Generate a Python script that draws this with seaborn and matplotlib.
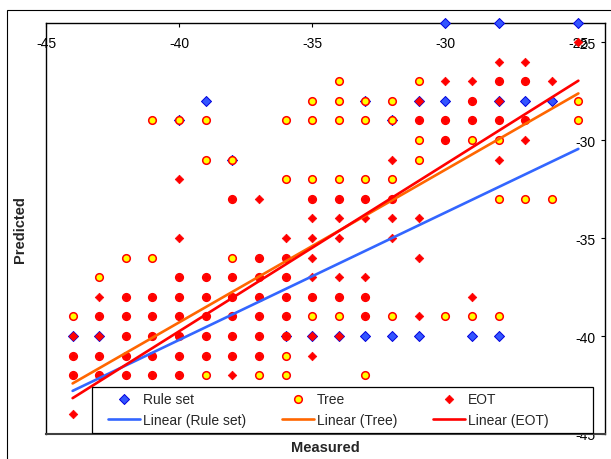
import pandas as pd
import matplotlib
matplotlib.use('Agg')
import matplotlib.pyplot as plt
from matplotlib.patches import Rectangle
import seaborn as sns

# (measured, predicted) pairs
rule_pts = [(-39, -28), (-40, -29), (-33, -28), (-32, -29), (-38, -31),
            (-31, -28), (-30, -28), (-28, -28), (-27, -28), (-26, -28),
            (-30, -24), (-28, -24), (-25, -24),
            (-44, -40), (-43, -40), (-36, -40), (-35, -40), (-34, -40),
            (-33, -40), (-32, -40), (-31, -40), (-29, -40), (-28, -40)]

tree_pts = [(-34, -27), (-31, -27), (-28, -27), (-27, -27),
            (-35, -28), (-34, -28), (-33, -28), (-32, -28), (-29, -28), (-25, -28),
            (-41, -29), (-40, -29), (-39, -29), (-36, -29), (-35, -29), (-34, -29),
            (-33, -29), (-32, -29), (-31, -29), (-30, -29), (-29, -29), (-28, -29),
            (-27, -29), (-25, -29),
            (-31, -30), (-30, -30), (-29, -30), (-28, -30),
            (-39, -31), (-38, -31), (-31, -31),
            (-36, -32), (-35, -32), (-34, -32), (-33, -32), (-32, -32),
            (-38, -33), (-35, -33), (-34, -33), (-33, -33), (-32, -33),
            (-28, -33), (-27, -33), (-26, -33),
            (-42, -36), (-41, -36), (-38, -36), (-37, -36), (-36, -36),
            (-43, -37), (-40, -37), (-39, -37), (-38, -37), (-37, -37), (-36, -37),
            (-42, -38), (-41, -38), (-40, -38), (-39, -38), (-38, -38), (-37, -38),
            (-36, -38), (-35, -38), (-34, -38), (-33, -38),
            (-44, -39), (-43, -39), (-42, -39), (-41, -39), (-40, -39), (-39, -39),
            (-38, -39), (-37, -39), (-36, -39), (-35, -39), (-34, -39), (-33, -39),
            (-32, -39), (-30, -39), (-29, -39), (-28, -39),
            (-42, -40), (-41, -40), (-40, -40), (-39, -40), (-38, -40), (-37, -40),
            (-36, -40),
            (-44, -41), (-43, -41), (-42, -41), (-41, -41), (-40, -41), (-39, -41),
            (-38, -41), (-37, -41), (-36, -41),
            (-44, -42), (-43, -42), (-42, -42), (-41, -42), (-40, -42), (-39, -42),
            (-37, -42), (-36, -42), (-33, -42)]

eot_pts = [(-25, -25),
           (-28, -26), (-27, -26),
           (-30, -27), (-29, -27), (-28, -27), (-27, -27), (-26, -27),
           (-31, -28), (-29, -28), (-28, -28),
           (-31, -29), (-30, -29), (-29, -29), (-28, -29), (-27, -29),
           (-30, -30), (-27, -30),
           (-32, -31), (-28, -31),
           (-40, -32),
           (-38, -33), (-37, -33), (-35, -33), (-34, -33), (-33, -33), (-32, -33),
           (-35, -34), (-34, -34), (-33, -34), (-32, -34), (-31, -34),
           (-40, -35), (-36, -35), (-35, -35), (-34, -35), (-32, -35),
           (-37, -36), (-36, -36), (-35, -36), (-31, -36),
           (-40, -37), (-39, -37), (-38, -37), (-37, -37), (-36, -37), (-35, -37),
           (-34, -37), (-33, -37),
           (-43, -38), (-42, -38), (-41, -38), (-40, -38), (-39, -38), (-38, -38),
           (-37, -38), (-36, -38), (-35, -38), (-34, -38), (-33, -38), (-29, -38),
           (-43, -39), (-42, -39), (-41, -39), (-40, -39), (-39, -39), (-38, -39),
           (-37, -39), (-36, -39), (-33, -39), (-31, -39),
           (-44, -40), (-43, -40), (-42, -40), (-41, -40), (-40, -40), (-39, -40),
           (-38, -40), (-37, -40), (-36, -40), (-35, -40), (-34, -40),
           (-44, -41), (-43, -41), (-42, -41), (-41, -41), (-40, -41), (-39, -41),
           (-38, -41), (-37, -41), (-35, -41),
           (-44, -42), (-43, -42), (-42, -42), (-41, -42), (-40, -42), (-38, -42),
           (-44, -44)]

# linear trend lines, endpoints
fit_x = [-44, -25]
rule_fit = [-42.8, -30.45]
tree_fit = [-42.42, -27.62]
eot_fit = [-43.17, -26.97]

ticks = [-45, -40, -35, -30, -25]

cols = ['Measured', 'Predicted']
rule_df = pd.DataFrame(rule_pts, columns=cols)
tree_df = pd.DataFrame(tree_pts, columns=cols)
eot_df = pd.DataFrame(eot_pts, columns=cols)

sns.set_theme(style='white')
plt.rcParams['font.family'] = ['Liberation Sans', 'DejaVu Sans']
plt.rcParams['axes.unicode_minus'] = False

fig = plt.figure(figsize=(6.11, 4.6), dpi=100)
ax = fig.add_axes([46 / 611, 25 / 460, 559 / 611, 411.5 / 460])

sns.scatterplot(data=rule_df, x='Measured', y='Predicted', marker='D', s=26,
                color='#3355ff', edgecolor='#0000dd', linewidth=0.7,
                label='Rule set', clip_on=False, zorder=3, ax=ax)
sns.scatterplot(data=tree_df, x='Measured', y='Predicted', marker='o', s=30,
                color='#ffff00', edgecolor='#ff0000', linewidth=1.1,
                label='Tree', zorder=3.1, ax=ax)
sns.scatterplot(data=eot_df, x='Measured', y='Predicted', marker='D', s=19,
                color='#ff0000', edgecolor='#ff0000', linewidth=0.5,
                label='EOT', zorder=3.2, ax=ax)

sns.lineplot(x=fit_x, y=rule_fit, color='#3366ff', linewidth=1.9,
             label='Linear (Rule set)', zorder=3.5, ax=ax)
sns.lineplot(x=fit_x, y=tree_fit, color='#ff6600', linewidth=1.9,
             label='Linear (Tree)', zorder=3.5, ax=ax)
sns.lineplot(x=fit_x, y=eot_fit, color='#ff0000', linewidth=1.9,
             label='Linear (EOT)', zorder=3.5, ax=ax)

ax.set_xlim(-45, -24)
ax.set_ylim(-45, -24)
ax.set_xticks(ticks)
ax.set_yticks(ticks)

# Excel style: x labels along the top, y labels inside the right edge
ax.tick_params(axis='x', bottom=False, top=True, labelbottom=False, labeltop=True,
               direction='in', length=3, width=0.8, pad=-14.5, labelsize=10,
               colors='black')
ax.tick_params(axis='y', left=False, right=True, labelleft=False, labelright=True,
               direction='in', length=3, width=0.8, pad=-7, labelsize=10,
               colors='black')
for t in ax.get_xticklabels():
    t.set_va('center')
for t in ax.get_yticklabels():
    t.set_ha('right')

for side in ['top', 'left', 'right']:
    ax.spines[side].set_color('black')
    ax.spines[side].set_linewidth(1.0)
ax.spines['bottom'].set_color('#404040')
ax.spines['bottom'].set_linewidth(1.5)

ax.set_xlabel('Measured', fontsize=10.5, fontweight='bold', va='center')
ax.set_ylabel('Predicted', fontsize=10.5, fontweight='bold', va='center')
ax.xaxis.set_label_coords(0.5, -13 / 411.5)
ax.yaxis.set_label_coords(-26 / 559, 0.5)

# legend frame drawn separately so it can match the Excel box width
ax.add_patch(Rectangle((46 / 559, 1 / 411.5), 501 / 559, 46 / 411.5,
                       transform=ax.transAxes, facecolor='white',
                       edgecolor='black', linewidth=0.9, zorder=4.5))

handles, labels = ax.get_legend_handles_labels()
lookup = dict(zip(labels, handles))
order = ['Rule set', 'Linear (Rule set)', 'Tree', 'Linear (Tree)',
         'EOT', 'Linear (EOT)']
ax.legend([lookup[k] for k in order], order, ncol=3, loc='upper left',
          bbox_to_anchor=(62 / 559, 42 / 411.5), borderaxespad=0, borderpad=0,
          frameon=False, fontsize=10, handlelength=2.3, handletextpad=0.2,
          columnspacing=2.6, labelspacing=0.5)

outer = Rectangle((7 / 611, -0.1), 1.2, 1 - 10.5 / 460 + 0.1,
                  transform=fig.transFigure, fill=False, edgecolor='black',
                  linewidth=0.8)
fig.add_artist(outer)

fig.savefig('out.png', dpi=100)
